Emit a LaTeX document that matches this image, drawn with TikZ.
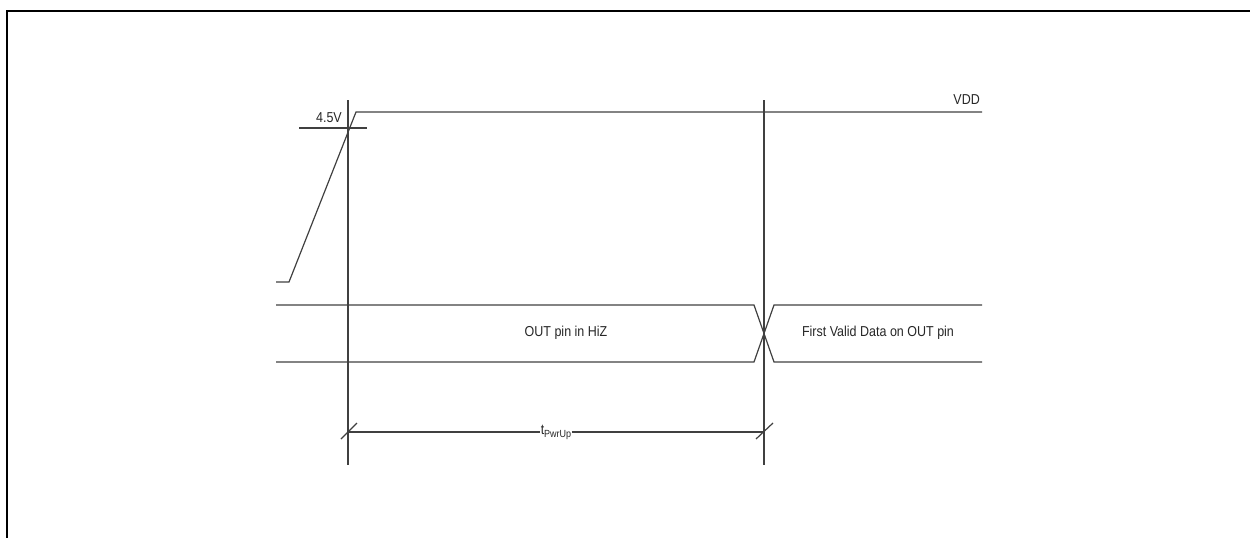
\documentclass[tikz,border=0pt]{standalone}
\usepackage{graphicx}
\usepackage{fontspec}
\setmainfont{Liberation Sans}
\newcommand{\tallt}[1]{\scalebox{1}[1.15]{#1}}
\begin{document}
\begin{tikzpicture}[x=1pt,y=-1pt,
  sig/.style={draw=black!75, line width=1.2pt},
  frame/.style={draw=black, line width=2pt},
  lbl/.style={font=\fontsize{12.5}{14}\selectfont, text=black!85, inner sep=1pt}]
\useasboundingbox (0,0) rectangle (1250,538);
% frame
\draw[frame] (6.5,538) -- (6.5,11) -- (1252,11);
% markers
\coordinate (m1t) at (348,100);
\coordinate (m1b) at (348,465);
\coordinate (m2t) at (764,100);
\coordinate (m2b) at (764,465);
\draw[sig] (m1t) -- (m1b);
\draw[sig] (m2t) -- (m2b);
% VDD ramp
\coordinate (v0) at (276,282);
\coordinate (v1) at (289,282);
\coordinate (v2) at (356,112);
\coordinate (v3) at (982,112);
\draw[sig] (v0) -- (v1) -- (v2) -- (v3);
\node[lbl, anchor=south east] (vdd) at (981,106) {\tallt{VDD}};
% threshold
\coordinate (th0) at (299,128);
\coordinate (th1) at (367,128);
\draw[sig] (th0) -- (th1);
\node[lbl, anchor=south east] (v45) at (343,124) {\tallt{4.5V}};
% bus
\coordinate (b0t) at (276,305);
\coordinate (b1t) at (754,305);
\coordinate (b2t) at (774,305);
\coordinate (b3t) at (982,305);
\coordinate (b0b) at (276,362);
\coordinate (b1b) at (754,362);
\coordinate (b2b) at (774,362);
\coordinate (b3b) at (982,362);
\draw[sig] (b0t) -- (b1t) -- (b2b) -- (b3b);
\draw[sig] (b0b) -- (b1b) -- (b2t) -- (b3t);
\node[lbl] (hiz) at (566,333) {\tallt{OUT pin in HiZ}};
\node[lbl] (valid) at (878,333) {\tallt{First Valid Data on OUT pin}};
% dimension
\coordinate (d0) at (348,432);
\coordinate (d1) at (764,432);
\node[lbl, inner sep=0.5pt] (tp) at (556,432) {\tallt{t\raisebox{-2.5pt}{\fontsize{9}{10}\selectfont PwrUp}}};
\draw[sig] (d0) -- (d0 -| tp.west);
\draw[sig] (d1 -| tp.east) -- (d1);
\draw[sig] ([shift={(-7,7)}]d0) -- ([shift={(9,-9)}]d0);
\draw[sig] ([shift={(-8,7)}]d1) -- ([shift={(9,-9)}]d1);
\end{tikzpicture}
\end{document}
